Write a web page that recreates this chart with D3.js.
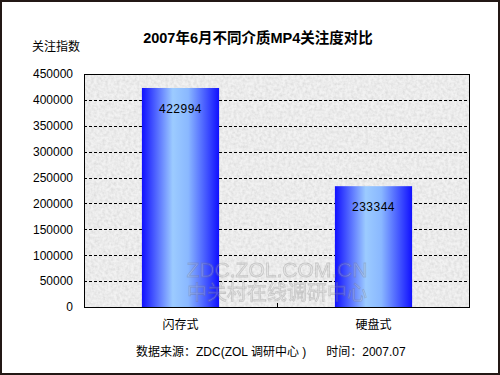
<!DOCTYPE html>
<html lang="zh">
<head>
<meta charset="UTF-8">
<title>2007年6月不同介质MP4关注度对比</title>
<script src="https://cdn.jsdelivr.net/npm/d3@7/dist/d3.min.js"></script>
<style>
  body { margin: 0; background: #fff; }
  text { font-family: "Liberation Sans", Arial, "Noto Sans CJK SC", sans-serif; }
</style>
</head>
<body>
<script>
const categories = ['闪存式', '硬盘式']
const values = [422994, 233344]
const yTicks = [0, 50000, 100000, 150000, 200000, 250000, 300000, 350000, 400000, 450000]

const W = 500, H = 375
const plot = { left: 84, top: 74, right: 470, bottom: 307 }

const svg = d3.select('body').append('svg')
  .attr('width', W).attr('height', H)

const defs = svg.append('defs')

// 背景纹理
const tex = defs.append('filter').attr('id', 'tex')
  .attr('x', 0).attr('y', 0).attr('width', 1).attr('height', 1)
tex.append('feTurbulence').attr('type', 'fractalNoise')
  .attr('baseFrequency', 0.35).attr('numOctaves', 2).attr('seed', 3).attr('result', 'n')
tex.append('feColorMatrix').attr('in', 'n').attr('type', 'matrix')
  .attr('values', '0 0 0 0 0.6  0 0 0 0 0.6  0 0 0 0 0.6  1 0 0 0 -0.3')
  .attr('result', 'g')
tex.append('feComposite').attr('in', 'g').attr('in2', 'SourceGraphic').attr('operator', 'atop')

// 柱形渐变
const grad = defs.append('linearGradient').attr('id', 'barGrad')
  .attr('x1', '0%').attr('x2', '100%').attr('y1', '0%').attr('y2', '0%')
grad.append('stop').attr('offset', '0%').attr('stop-color', '#1010ff')
grad.append('stop').attr('offset', '40%').attr('stop-color', '#9ccbff')
grad.append('stop').attr('offset', '60%').attr('stop-color', '#8ab8ff')
grad.append('stop').attr('offset', '100%').attr('stop-color', '#1010ff')

// 外框
svg.append('rect').attr('x', 1).attr('y', 1).attr('width', W - 2).attr('height', H - 2)
  .attr('fill', 'none').attr('stroke', '#231815').attr('stroke-width', 2)

const x = d3.scaleBand().domain(categories).range([plot.left, plot.right])
const y = d3.scaleLinear().domain([0, 450000]).range([plot.bottom, plot.top])
const barW = x.bandwidth() * 0.4

// 绘图区背景
svg.append('rect')
  .attr('x', plot.left).attr('y', plot.top)
  .attr('width', plot.right - plot.left).attr('height', plot.bottom - plot.top)
  .attr('fill', '#f2f2f2').attr('filter', 'url(#tex)')

// 网格线
svg.append('g').selectAll('line')
  .data(yTicks.filter(d => d > 0 && d < 450000))
  .join('line')
  .attr('x1', plot.left).attr('x2', plot.right)
  .attr('y1', d => Math.round(y(d)) + 0.5).attr('y2', d => Math.round(y(d)) + 0.5)
  .attr('stroke', '#000').attr('stroke-dasharray', '3,2')

// 柱形
svg.append('g').selectAll('rect')
  .data(values)
  .join('rect')
  .attr('x', (d, i) => x(categories[i]) + (x.bandwidth() - barW) / 2)
  .attr('y', d => y(d))
  .attr('width', barW)
  .attr('height', d => y(0) - y(d))
  .attr('fill', 'url(#barGrad)')

// 水印
const wm = svg.append('g').attr('opacity', 0.3)
  .attr('text-anchor', 'middle').attr('fill', '#d0d0d0').attr('stroke', '#777').attr('stroke-width', 0.8)
wm.append('text').attr('x', 277).attr('y', 277).attr('font-size', 21)
  .attr('font-family', 'Liberation Sans, Arial, sans-serif').text('ZDC.ZOL.COM.CN')
wm.append('text').attr('x', 277).attr('y', 300).attr('font-size', 20)
  .attr('font-family', 'Noto Sans CJK SC, sans-serif').text('中关村在线调研中心')

// 数据标签
svg.append('g').selectAll('text')
  .data(values)
  .join('text')
  .attr('x', (d, i) => x(categories[i]) + x.bandwidth() / 2)
  .attr('y', d => y(d) + 25)
  .attr('text-anchor', 'middle')
  .attr('font-size', 12)
  .attr('letter-spacing', 0.5)
  .attr('fill', '#000')
  .text(d => d)

// 绘图区边框
svg.append('rect')
  .attr('x', plot.left + 0.5).attr('y', plot.top + 0.5)
  .attr('width', plot.right - plot.left - 1).attr('height', plot.bottom - plot.top)
  .attr('fill', 'none').attr('stroke', '#000')

// y轴
const yAxis = d3.axisLeft(y).tickValues(yTicks).tickSize(0).tickPadding(11).tickFormat(d => d)
svg.append('g')
  .attr('transform', `translate(${plot.left},0)`)
  .call(yAxis)
  .call(g => g.select('.domain').remove())
  .call(g => g.selectAll('text').attr('font-size', 12).attr('fill', '#000')
    .attr('font-family', 'Liberation Sans, Arial, sans-serif'))

// x轴
const xAxis = d3.axisBottom(x).tickSize(0).tickPadding(13)
svg.append('g')
  .attr('transform', `translate(0,${plot.bottom})`)
  .call(xAxis)
  .call(g => g.select('.domain').remove())
  .call(g => g.selectAll('text').attr('font-size', 12).attr('fill', '#000')
    .attr('font-family', 'Noto Sans CJK SC, sans-serif'))

// 类别分隔刻度
svg.append('line')
  .attr('x1', x(categories[1]) + 0.5).attr('x2', x(categories[1]) + 0.5)
  .attr('y1', plot.bottom - 4).attr('y2', plot.bottom)
  .attr('stroke', '#000')

// 标题
svg.append('text').attr('x', 258).attr('y', 43)
  .attr('text-anchor', 'middle').attr('font-size', 14.5).attr('font-weight', 'bold')
  .attr('font-family', 'Liberation Sans, Arial, Noto Sans CJK SC, sans-serif')
  .text('2007年6月不同介质MP4关注度对比')

svg.append('text').attr('x', 32).attr('y', 51)
  .attr('font-size', 12).attr('font-family', 'Noto Sans CJK SC, sans-serif')
  .text('关注指数')

svg.append('text').attr('x', 136).attr('y', 356)
  .attr('font-size', 12).attr('font-family', 'Noto Sans CJK SC, sans-serif')
  .attr('xml:space', 'preserve')
  .text('数据来源：ZDC(ZOL 调研中心 )      时间：2007.07')
</script>
</body>
</html>
